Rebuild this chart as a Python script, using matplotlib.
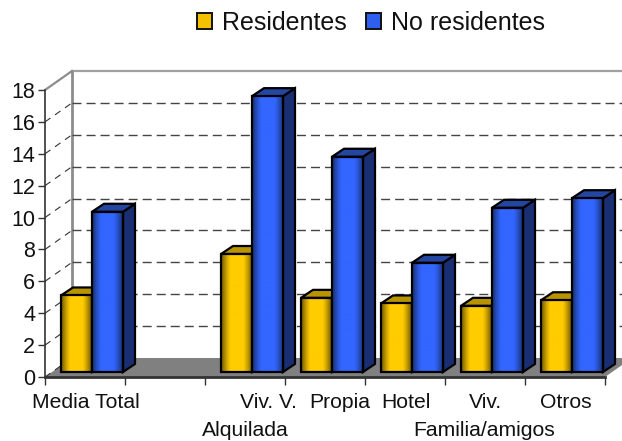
import numpy as np
import matplotlib
matplotlib.use("Agg")
import matplotlib.pyplot as plt
from matplotlib.colors import LinearSegmentedColormap
from matplotlib.patches import Patch, Polygon, Rectangle

plt.rcParams['font.family'] = ['Liberation Sans', 'DejaVu Sans']

## Datos
categorias = ["Media Total", "", "Alquilada", "", "Hotel", "Viv.", "Otros"]
residentes = [4.8, 0, 7.4, 4.65, 4.3, 4.15, 4.5]
no_residentes = [10.05, 0, 17.3, 13.5, 6.85, 10.3, 10.9]
etiquetas_y = [0, 2, 4, 6, 8, 10, 12, 14, 16, 18]

W, H = 622, 441
PX_X = 80.0      # pixeles por categoria
PX_Y = 287 / 18  # pixeles por unidad

# profundidad de la caja y de las barras
DX, DY = 27 / PX_X, 19 / PX_Y
BX, BY = 12 / PX_X, 8 / PX_Y
ANCHO = 31 / PX_X
X0 = 16 / PX_X
Y0 = 5 / PX_Y

fig = plt.figure(figsize=(W / 100, H / 100), dpi=100)
ax = fig.add_axes([45 / W, (H - 377) / H, 560 / W, 287 / H])

amarillo = LinearSegmentedColormap.from_list('amarillo', ['#6e5600', '#ffcc00'])
azul = LinearSegmentedColormap.from_list('azul', ['#16306f', '#3366ff'])


def barra(x, v, cmap, lado, techo):
    "Una barra falsa en 3D: frente con degradado, lado y techo"
    y = Y0 + v
    ax.add_patch(Polygon([(x + ANCHO, Y0), (x + ANCHO + BX, Y0 + BY), (x + ANCHO + BX, y + BY), (x + ANCHO, y)],
                         fc=lado, ec='black', lw=1.6, zorder=5, clip_on=False))
    ax.add_patch(Polygon([(x, y), (x + BX, y + BY), (x + ANCHO + BX, y + BY), (x + ANCHO, y)],
                         fc=techo, ec='black', lw=1.6, zorder=5, clip_on=False))
    grad = np.sin(np.linspace(0, np.pi, 64)).reshape(1, -1)
    ax.imshow(grad, cmap=cmap, vmin=0, vmax=0.8, extent=(x, x + ANCHO, Y0, y), aspect='auto', zorder=5, clip_on=False)
    ax.add_patch(Rectangle((x, Y0), ANCHO, v, fc='none', ec='black', lw=1.6, zorder=5, clip_on=False))


n = len(categorias)

# suelo y paredes
ax.add_patch(Polygon([(0, 0), (n, 0), (n + DX, DY), (DX, DY)], fc='#808080', ec='none', zorder=1, clip_on=False))
ax.plot([DX, DX], [DY, 18 + DY], color='#8c8c8c', lw=2, zorder=2, clip_on=False)
ax.plot([DX, n + DX], [18 + DY, 18 + DY], color='#a0a0a0', lw=1.6, zorder=2, clip_on=False)
ax.plot([0, DX], [18, 18 + DY], color='#8c8c8c', lw=1.6, zorder=2, clip_on=False)

for v in etiquetas_y[:-1]:
    if v > 0:
        ax.plot([DX, n + DX], [v + DY, v + DY], color='#444444', lw=1, dashes=(6.5, 3.6), zorder=2, clip_on=False)
    ax.plot([0, DX], [v, v + DY], color='#333333', lw=0.8, dashes=(6, 5), zorder=2, clip_on=False)

for i in range(n):
    if residentes[i] > 0:
        barra(i + X0, residentes[i], amarillo, '#a58400', '#b89400')
        barra(i + X0 + ANCHO, no_residentes[i], azul, '#1a2f73', '#2446a0')

ax.set_xlim(0, n)
ax.set_ylim(0, 18)
ax.patch.set_visible(False)
for s in ['top', 'right']:
    ax.spines[s].set_visible(False)
ax.spines['left'].set_color('#333333')
ax.spines['left'].set_linewidth(1.2)
ax.spines['bottom'].set_color('#333333')
ax.spines['bottom'].set_linewidth(2)
ax.spines['bottom'].set_zorder(6)
ax.set_xticks(range(n + 1))
ax.set_xticklabels([])
ax.set_yticks(etiquetas_y)
ax.tick_params(axis='y', labelsize=15.5, length=5, width=1, color='#333333', pad=2, labelcolor='#111111')
ax.tick_params(axis='x', length=6, width=1, color='#333333')

# etiquetas de categoria (colocadas a mano como en el original)
textos = ["Media Total", "Viv. V.", "Propia", "Hotel", "Viv.", "Otros"]
pos_x = [0.51, 2.79, 3.69, 4.51, 5.51, 6.51]
for t, x in zip(textos, pos_x):
    ax.text(x, -1.6, t, ha='center', va='center', fontsize=15.2, color='#111111', clip_on=False)
ax.text(2.51, -3.93, "Alquilada", ha='center', va='bottom', fontsize=15.2, color='#111111', clip_on=False)
ax.text(5.49, -3.93, "Familia/amigos", ha='center', va='bottom', fontsize=15.2, color='#111111', clip_on=False)

handles = [Patch(fc='#f2c200', ec='#111111', lw=1.4), Patch(fc='#2f5fee', ec='#111111', lw=1.4)]
fig.legend(handles, ["Residentes", "No residentes"], loc='center', bbox_to_anchor=(371 / W, 1 - 23 / H),
           ncol=2, frameon=False, fontsize=18, handlelength=0.62, handleheight=0.62,
           handletextpad=0.4, columnspacing=0.75, labelcolor='#111111')

fig.savefig("out.png", dpi=100)
